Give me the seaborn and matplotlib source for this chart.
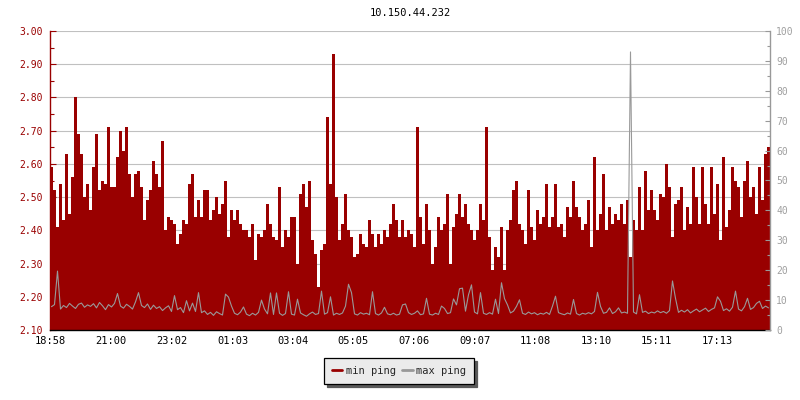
import numpy as np
import pandas as pd
import matplotlib
matplotlib.use("Agg")
import matplotlib.pyplot as plt
from matplotlib.lines import Line2D
from matplotlib.ticker import MultipleLocator, FormatStrFormatter
import seaborn as sns

# ---- data: one sample every 6 minutes, 24h starting 18:58 ----
title = "10.150.44.232"
start_time = "2024-01-01 18:58"
step_min = 6

# min ping (ms, left axis)
min_ping = [
    2.59, 2.52, 2.41, 2.54, 2.43, 2.63, 2.45, 2.56, 2.80, 2.69, 2.63, 2.50,
    2.54, 2.46, 2.59, 2.69, 2.52, 2.55, 2.54, 2.71, 2.53, 2.53, 2.62, 2.70,
    2.64, 2.71, 2.57, 2.50, 2.57, 2.58, 2.53, 2.43, 2.49, 2.52, 2.61, 2.57,
    2.53, 2.67, 2.40, 2.44, 2.43, 2.42, 2.36, 2.39, 2.43, 2.42, 2.54, 2.57,
    2.44, 2.49, 2.44, 2.52, 2.52, 2.43, 2.46, 2.50, 2.45, 2.48, 2.55, 2.38,
    2.46, 2.43, 2.46, 2.42, 2.40, 2.40, 2.38, 2.42, 2.31, 2.39, 2.38, 2.40,
    2.48, 2.42, 2.38, 2.37, 2.53, 2.35, 2.40, 2.38, 2.44, 2.44, 2.30, 2.51,
    2.54, 2.47, 2.55, 2.37, 2.33, 2.23, 2.34, 2.36, 2.74, 2.54, 2.93, 2.50,
    2.37, 2.42, 2.51, 2.40, 2.38, 2.32, 2.33, 2.39, 2.36, 2.35, 2.43, 2.39,
    2.35, 2.39, 2.36, 2.40, 2.38, 2.42, 2.48, 2.43, 2.38, 2.43, 2.38, 2.40,
    2.39, 2.35, 2.71, 2.44, 2.36, 2.48, 2.40, 2.30, 2.35, 2.44, 2.40, 2.42,
    2.51, 2.30, 2.41, 2.45, 2.51, 2.44, 2.48, 2.42, 2.40, 2.37, 2.40, 2.48,
    2.43, 2.71, 2.38, 2.28, 2.35, 2.32, 2.41, 2.28, 2.40, 2.43, 2.52, 2.55,
    2.42, 2.40, 2.36, 2.52, 2.41, 2.37, 2.46, 2.42, 2.44, 2.54, 2.41, 2.44,
    2.54, 2.41, 2.42, 2.38, 2.47, 2.44, 2.55, 2.47, 2.44, 2.40, 2.42, 2.49,
    2.35, 2.62, 2.40, 2.45, 2.57, 2.40, 2.47, 2.42, 2.45, 2.43, 2.48, 2.42,
    2.49, 2.32, 2.43, 2.40, 2.53, 2.40, 2.58, 2.46, 2.52, 2.46, 2.43, 2.51,
    2.50, 2.60, 2.53, 2.38, 2.48, 2.49, 2.53, 2.40, 2.47, 2.42, 2.59, 2.50,
    2.42, 2.59, 2.48, 2.42, 2.59, 2.45, 2.54, 2.37, 2.62, 2.41, 2.46, 2.59,
    2.55, 2.53, 2.44, 2.55, 2.61, 2.50, 2.53, 2.45, 2.59, 2.49, 2.63, 2.65,
]

# max ping (ms, right axis)
max_ping = [
    7.8, 8.5, 19.7, 7.0, 8.2, 7.5, 8.9, 8.0, 7.2, 8.6, 9.0, 7.6,
    8.4, 7.9, 8.8, 7.4, 9.2, 8.1, 6.8, 8.5, 7.7, 8.9, 12.2, 8.0,
    7.3, 8.6, 7.9, 7.0, 9.4, 12.5, 8.2, 7.5, 8.7, 6.9, 8.3, 7.2,
    7.8, 6.5, 7.4, 8.1, 6.2, 11.5, 6.8, 7.5, 5.8, 9.8, 6.4, 9.0,
    6.2, 12.5, 5.8, 6.4, 5.2, 5.9, 4.9, 6.1, 5.5, 5.0, 12.0, 11.0,
    8.0, 5.6, 5.1, 6.0, 7.7, 5.3, 4.8, 5.6, 5.0, 5.9, 10.0, 7.0,
    5.4, 12.4, 5.2, 12.4, 5.6, 4.9, 5.5, 12.8, 5.3, 5.0, 10.3, 5.7,
    5.1, 4.6, 5.4, 6.0, 5.2, 5.5, 13.0, 5.3, 5.8, 11.1, 5.0, 5.6,
    5.2, 5.7, 8.0, 15.3, 12.5, 5.4, 5.0, 5.8, 5.3, 5.6, 5.1, 12.8,
    5.5, 5.0, 5.7, 7.6, 5.4, 5.1, 5.6, 5.0, 5.3, 8.4, 8.7, 5.8,
    5.2, 5.6, 6.4, 5.1, 5.4, 10.6, 5.3, 5.0, 5.6, 5.2, 8.0, 7.2,
    5.5, 5.8, 10.4, 8.4, 13.8, 14.0, 6.3, 11.8, 15.1, 6.0, 5.4, 12.5,
    5.6, 5.2, 5.8, 5.3, 10.3, 5.5, 15.8, 10.5, 8.4, 5.7, 6.3, 7.9,
    10.1, 5.6, 5.2, 6.0, 5.4, 5.8, 5.1, 5.6, 5.3, 5.9, 5.2, 8.0,
    11.3, 5.8, 5.4, 5.1, 5.7, 5.3, 10.2, 5.5, 5.0, 5.6, 5.3, 5.8,
    5.4, 6.2, 12.6, 7.9, 5.6, 5.9, 7.4, 5.5, 6.1, 7.4, 5.7, 6.0,
    5.6, 93.0, 6.0, 5.4, 11.8, 5.9, 6.3, 5.5, 6.0, 5.7, 6.4, 5.8,
    6.2, 5.6, 6.5, 16.4, 10.6, 5.9, 6.6, 6.0, 6.8, 5.7, 6.4, 7.0,
    6.1, 6.7, 7.3, 6.2, 6.9, 7.4, 11.1, 9.6, 6.5, 7.1, 6.3, 7.6,
    13.0, 7.0, 6.4, 7.8, 10.6, 6.9, 7.5, 8.9, 9.6, 7.2, 8.0, 7.4,
]

tick_labels = ["18:58", "21:00", "23:02", "01:03", "03:04", "05:05",
               "07:06", "09:07", "11:08", "13:10", "15:11", "17:13"]

RED = "#990000"
GREY = "#999999"
MONO = "DejaVu Sans Mono"

# ---- time axis ----
t0 = pd.Timestamp(start_time)
edges = pd.date_range(t0, periods=len(min_ping) + 1, freq=f"{step_min}min")
mids = pd.date_range(t0 + pd.Timedelta(minutes=step_min / 2),
                     periods=len(max_ping), freq=f"{step_min}min")
tick_times = []
for lab in tick_labels:
    h, m = map(int, lab.split(":"))
    day = t0.normalize() + pd.Timedelta(days=0 if h >= 18 else 1)
    tick_times.append(day + pd.Timedelta(hours=h, minutes=m))

sns.set_style("white")
plt.rcParams["font.family"] = [MONO, "DejaVu Sans"]

fig = plt.figure(figsize=(8, 4), dpi=100)
ax = fig.add_axes([50 / 800, 1 - 330 / 400, 720 / 800, 299 / 400])
ax2 = ax.twinx()

# min ping as a filled step area
ax.fill_between(edges, np.append(min_ping, min_ping[-1]), 2.10,
                step="post", color=RED, linewidth=0, zorder=2)

# max ping as a line on the right axis
sns.lineplot(x=mids, y=max_ping, ax=ax2, color=GREY, linewidth=0.8)

ax.set_xlim(t0, t0 + pd.Timedelta(hours=24))
ax.set_ylim(2.10, 3.00)
ax2.set_ylim(0, 100)

ax.set_axisbelow(True)
ax.yaxis.set_major_locator(MultipleLocator(0.1))
ax.yaxis.set_minor_locator(MultipleLocator(0.05))
ax.yaxis.set_major_formatter(FormatStrFormatter("%.2f"))
ax.grid(axis="y", color="#c0c0c0", linewidth=0.8)
ax.grid(axis="x", visible=False)
ax2.grid(False)

ax.set_xticks(tick_times)
ax.set_xticklabels(tick_labels)
ax.tick_params(axis="x", direction="in", length=3.6, width=0.8,
               color="black", labelsize=7.5, pad=4.5, labelcolor="black")
ax.tick_params(axis="y", which="major", direction="in", length=4.3, width=0.8,
               color=RED, labelcolor=RED, labelsize=7, pad=5)
ax.tick_params(axis="y", which="minor", direction="in", length=2.8, width=0.8,
               color=RED, left=True)

ax2.yaxis.set_major_locator(MultipleLocator(10))
ax2.yaxis.set_minor_locator(MultipleLocator(5))
ax2.tick_params(axis="y", which="major", direction="in", length=3.6, width=0.8,
                color=GREY, labelcolor="#a0a0a0", labelsize=7, pad=4.5)
ax2.tick_params(axis="y", which="minor", direction="in", length=2.2, width=0.8,
                color=GREY, right=True)
ax2.set_xlabel("")
ax2.set_ylabel("")
ax.set_xlabel("")
ax.set_ylabel("")

for a in (ax, ax2):
    for s in a.spines.values():
        s.set_visible(False)
ax.spines["left"].set_visible(True)
ax.spines["left"].set_color(RED)
ax.spines["left"].set_linewidth(1.0)
ax.spines["bottom"].set_visible(True)
ax.spines["bottom"].set_color("black")
ax.spines["bottom"].set_linewidth(1.0)
ax2.spines["right"].set_visible(True)
ax2.spines["right"].set_color(GREY)
ax2.spines["right"].set_linewidth(1.0)

fig.text(410 / 800, 1 - 13 / 400, title, ha="center", va="center",
         fontsize=7.5, color="black")

handles = [Line2D([], [], color=RED, linewidth=2.0),
           Line2D([], [], color=GREY, linewidth=2.0)]
fig.legend(handles, ["min ping", "max ping"], loc="center",
           bbox_to_anchor=(399 / 800, 1 - 371 / 400), ncol=2,
           fontsize=7.5, frameon=True, fancybox=False, edgecolor="black",
           facecolor="#ebebeb", framealpha=1, handlelength=1.0,
           handletextpad=0.35, columnspacing=0.6, borderpad=0.75,
           shadow={"facecolor": "#5a5a5a", "edgecolor": "#5a5a5a", "alpha": 1.0})
fig.legends[0].get_frame().set_linewidth(0.9)

fig.savefig("out.png", dpi=100)
